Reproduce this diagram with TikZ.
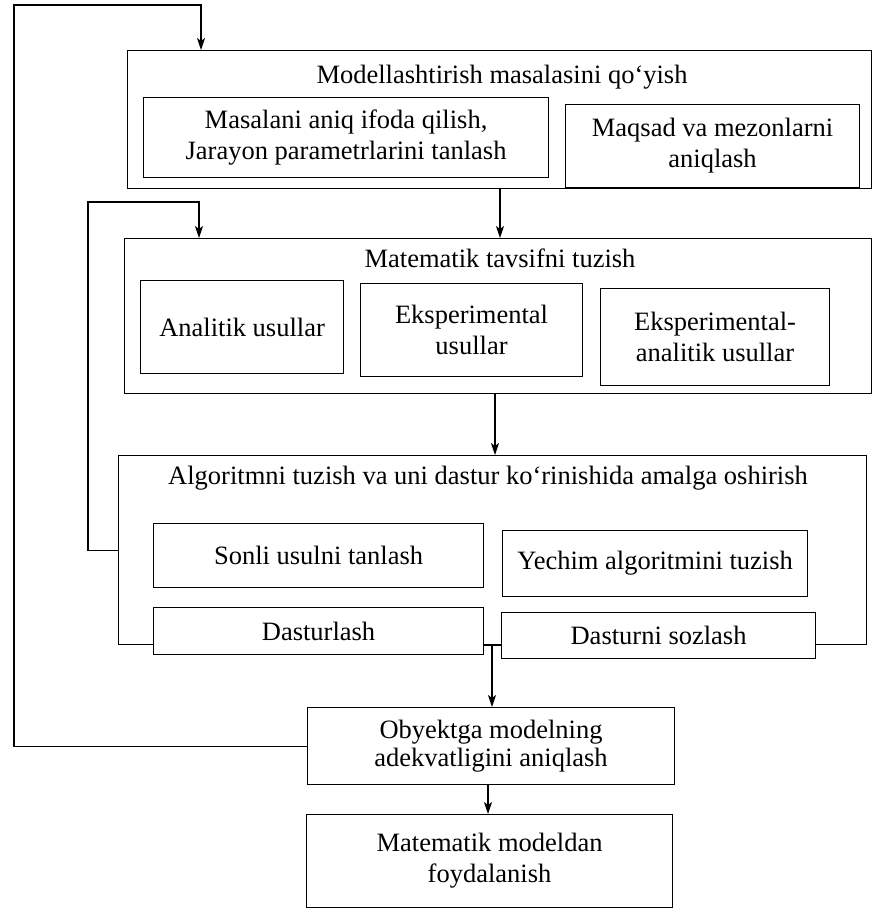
\documentclass[tikz,border=0pt]{standalone}
\usepackage{fontspec}
\setmainfont{Liberation Serif}
\usetikzlibrary{arrows.meta,calc}
\begin{document}
\begin{tikzpicture}[x=1pt,y=-1pt,
  font=\fontsize{26.5}{31}\selectfont,
  box/.style={draw, line width=1.1pt, fill=white, inner sep=0pt, align=center, anchor=north west},
  ttl/.style={inner sep=0pt, align=center},
  arr/.style={line width=1.1pt, -{Stealth[length=12pt,width=8pt,inset=3pt]}},
  ln/.style={line width=1.1pt}]
\useasboundingbox[fill=white] (0,0) rectangle (872,912);
% outer blocks
\node[box, minimum width=744pt, minimum height=138pt] (b1) at (127,50) {};
\node[ttl] (t1) at (502,77) {Modellashtirish masalasini qo‘yish};
\node[box, minimum width=405pt, minimum height=80pt] (a1) at (143,97) {Masalani aniq ifoda qilish,\\Jarayon parametrlarini tanlash};
\node[box, minimum width=294pt, minimum height=83pt] (a2) at (565,104) {Maqsad va mezonlarni\\aniqlash};

\node[box, minimum width=747pt, minimum height=155pt] (b2) at (124,238) {};
\node[ttl] (t2) at (500,258) {Matematik tavsifni tuzish};
\node[box, minimum width=203pt, minimum height=93pt] (c1) at (140,280) {Analitik usullar};
\node[box, minimum width=222pt, minimum height=93pt] (c2) at (360,283) {Eksperimental\\usullar};
\node[box, minimum width=229pt, minimum height=97pt] (c3) at (600,288) {Eksperimental-\\analitik usullar};

\node[box, minimum width=748pt, minimum height=189pt] (b3) at (118,455) {};
\node[ttl] (t3) at (488,478) {Algoritmni tuzish va uni dastur ko‘rinishida amalga oshirish};
\node[box, minimum width=330pt, minimum height=64pt] (d1) at (153,523) {Sonli usulni tanlash};
\node[box, minimum width=305pt, minimum height=66pt] (d2) at (502,530) {Yechim algoritmini tuzish};
\node[box, minimum width=330pt, minimum height=47pt] (e1) at (153,607) {Dasturlash};
\node[box, minimum width=314pt, minimum height=46pt] (e2) at (501,612) {Dasturni sozlash};

\node[box, minimum width=367pt, minimum height=77pt] (f) at (307,707) {Obyektga modelning\\[-3pt]adekvatligini aniqlash};
\node[box, minimum width=366pt, minimum height=93pt] (g) at (306,814) {Matematik modeldan\\foydalanish};

% helper coordinates
\coordinate (x500) at (500,0);
\coordinate (x495) at (495,0);
\coordinate (x492) at (492,0);
\coordinate (x488) at (488,0);
\coordinate (lb) at (14,5);
\coordinate (lm) at (88,202);

% connectors
\draw[arr] (b1.south -| x500) -- (b2.north -| x500);
\draw[arr] (b2.south -| x495) -- (b3.north -| x495);
\draw[ln] (e1.east |- b3.south) -- (e2.west |- b3.south);
\draw[arr] (b3.south -| x492) -- (f.north -| x492);
\draw[arr] (f.south -| x488) -- (g.north -| x488);
\draw[arr] (f.west) -| (lb) -| ($(b1.north west)+(74,0)$);
\draw[arr] (b3.west) -| (lm) -| ($(b2.north west)+(75,0)$);
\end{tikzpicture}
\end{document}
